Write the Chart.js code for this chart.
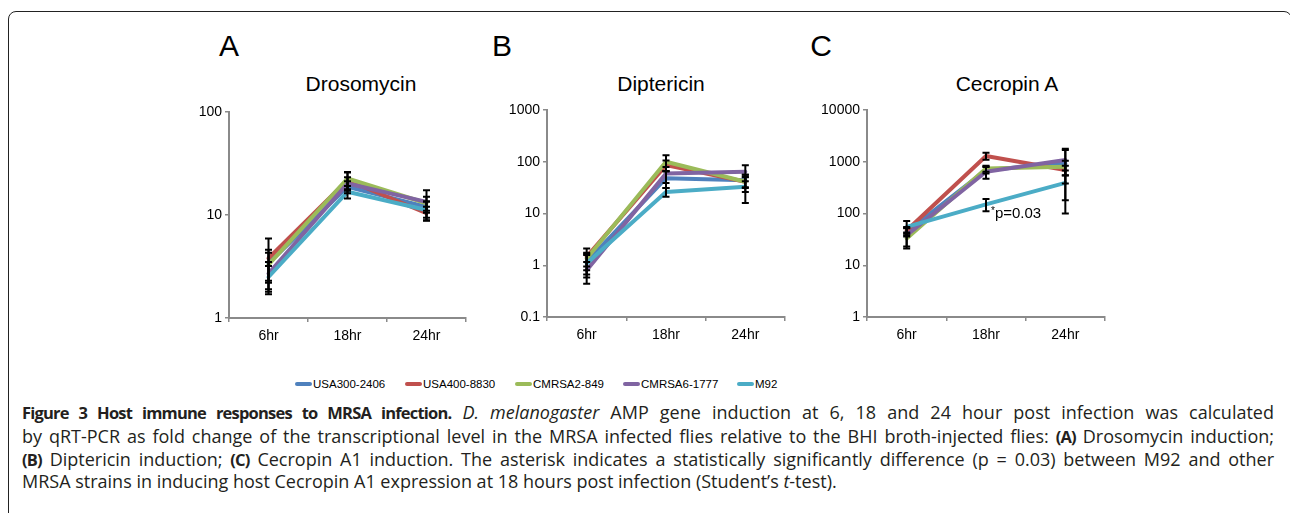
<!DOCTYPE html>
<html><head><meta charset="utf-8">
<script src="https://cdn.jsdelivr.net/npm/chart.js@4.4.0/dist/chart.umd.min.js"></script>
<style>
html,body{margin:0;padding:0;background:#fff;}
body{width:1290px;height:513px;position:relative;overflow:hidden;font-family:"Liberation Sans",Arial,sans-serif;}
.frame{position:absolute;left:8px;top:11px;width:1284px;height:600px;border:1.5px solid #222;border-radius:8px;box-sizing:border-box;}
.panel{position:absolute;}
.lbl{position:absolute;transform:translate(-50%,-50%);white-space:nowrap;color:#000;line-height:1;}
.letter{font-size:30px;}
.title{font-size:21px;}
.leg{position:absolute;top:376px;height:16px;font-size:11.5px;display:flex;align-items:center;white-space:nowrap;color:#000;}
.leg i{display:inline-block;width:17px;height:4px;border-radius:2px;margin-right:1px;}
.cap{position:absolute;left:22px;width:1252px;font-family:"Open Sans",sans-serif;font-size:18px;line-height:20px;height:20px;color:#231f20;}
.cap.j{text-align:justify;text-align-last:justify;}
.cap b{font-size:16.5px;letter-spacing:-0.8px;}
</style></head>
<body>
<div class="frame"></div>
<div class="lbl letter" style="left:229px;top:46px">A</div>
<div class="lbl letter" style="left:502px;top:46px">B</div>
<div class="lbl letter" style="left:821px;top:46px">C</div>
<div class="lbl title" style="left:361px;top:83px">Drosomycin</div>
<div class="lbl title" style="left:661px;top:83px">Diptericin</div>
<div class="lbl title" style="left:1007px;top:83px">Cecropin A</div>
<div class="panel" id="pa"><canvas id="ca"></canvas></div>
<div class="panel" id="pb"><canvas id="cb"></canvas></div>
<div class="panel" id="pc"><canvas id="cc"></canvas></div>
<div id="legend"></div>
<div class="cap j" style="top:402px"><b>Figure 3 Host immune responses to MRSA infection.</b> <i>D. melanogaster</i> AMP gene induction at 6, 18 and 24 hour post infection was calculated</div>
<div class="cap j" style="top:426px">by qRT-PCR as fold change of the transcriptional level in the MRSA infected flies relative to the BHI broth-injected flies: <b>(A)</b> Drosomycin induction;</div>
<div class="cap j" style="top:449px"><b>(B)</b> Diptericin induction; <b>(C)</b> Cecropin A1 induction. The asterisk indicates a statistically significantly difference (p = 0.03) between M92 and other</div>
<div class="cap" style="top:471px">MRSA strains in inducing host Cecropin A1 expression at 18 hours post infection (Student’s <i>t</i>-test).</div>
<script>
const categories = ['6hr', '18hr', '24hr'];
const strains = ['USA300-2406', 'USA400-8830', 'CMRSA2-849', 'CMRSA6-1777', 'M92'];

const drosomycinValues = [[3.4, 18.8, 12.0], [3.8, 21.8, 10.4], [3.3, 22.6, 13.0], [2.7, 20.2, 13.4], [2.5, 16.8, 11.2]];
const drosomycinErrors = [[1.2, 2.5, 1.5], [2.1, 4.0, 1.6], [1.0, 3.5, 2.0], [0.8, 3.0, 4.0], [0.7, 2.3, 2.3]];
const drosomycinTicks = [1, 10, 100];

const diptericinValues = [[1.16, 48, 44], [1.45, 86, 41], [1.35, 100, 41], [0.8, 59, 64], [1.08, 26, 33]];
const diptericinErrors = [[0.5, 17, 12], [0.65, 20, 15], [0.4, 34, 10], [0.36, 20, 22], [0.5, 5, 17]];
const diptericinTicks = [0.1, 1, 10, 100, 1000];

const cecropinValues = [[44, 690, 930], [47, 1290, 690], [33, 740, 800], [38, 640, 1080], [55, 150, 390]];
const cecropinErrors = [[8, 100, 750], [6, 200, 150], [10, 100, 250], [17, 170, 700], [17, 40, 290]];
const cecropinTicks = [1, 10, 100, 1000, 10000];

const annotationMark = '*';
const annotationLabel = 'p=0.03';

const strainColors = ['#4f81bd', '#c0504d', '#9bbb59', '#8064a2', '#4bacc6'];
const axisColor = '#8a8a8a';
const FONT = '"Liberation Sans", Arial, sans-serif';

// legend
const legendX = [295, 405, 515, 623, 737];
const legendEl = document.getElementById('legend');
strains.forEach((s, i) => {
  const d = document.createElement('div');
  d.className = 'leg';
  d.style.left = legendX[i] + 'px';
  d.innerHTML = '<i style="background:' + strainColors[i] + '"></i>' + s;
  legendEl.appendChild(d);
});

const errorBarPlugin = {
  id: 'errbars',
  afterDatasetsDraw(chart) {
    const ctx = chart.ctx, ys = chart.scales.y;
    ctx.save();
    ctx.strokeStyle = '#000';
    ctx.lineWidth = 2;
    chart.data.datasets.forEach((ds, i) => {
      const meta = chart.getDatasetMeta(i);
      ds.data.forEach((v, j) => {
        const e = ds.errors[j];
        const x = meta.data[j].x;
        const yt = ys.getPixelForValue(v + e);
        const yb = ys.getPixelForValue(Math.max(v - e, ys.min));
        ctx.beginPath();
        ctx.moveTo(x, yt); ctx.lineTo(x, yb);
        ctx.moveTo(x - 3.5, yt); ctx.lineTo(x + 3.5, yt);
        ctx.moveTo(x - 3.5, yb); ctx.lineTo(x + 3.5, yb);
        ctx.stroke();
      });
    });
    ctx.restore();
  }
};

const annotationPlugin = {
  id: 'pval',
  afterDatasetsDraw(chart) {
    const ctx = chart.ctx;
    const x = chart.scales.x.getPixelForValue(1);
    const y = chart.scales.y.getPixelForValue(cecropinValues[4][1]);
    ctx.save();
    ctx.fillStyle = '#000';
    ctx.textBaseline = 'alphabetic';
    ctx.textAlign = 'left';
    ctx.font = '10px ' + FONT;
    ctx.fillText(annotationMark, x + 5, y + 10);
    const w = ctx.measureText(annotationMark).width;
    ctx.font = '15px ' + FONT;
    ctx.fillText(annotationLabel, x + 5 + w, y + 14);
    ctx.restore();
  }
};

function build(panelId, canvasId, box, values, errors, tickVals, extra) {
  const wrap = document.getElementById(panelId);
  const W = box.R - box.L + 82, H = box.B - box.T + 42;
  wrap.style.left = (box.L - 70) + 'px';
  wrap.style.top = (box.T - 12) + 'px';
  const cv = document.getElementById(canvasId);
  cv.width = W; cv.height = H;
  cv.style.width = W + 'px'; cv.style.height = H + 'px';
  const gridOpts = { drawOnChartArea: false, drawTicks: true, tickLength: 4, color: axisColor, lineWidth: 1.5 };
  const borderOpts = { display: true, color: axisColor, width: 2 };
  new Chart(cv.getContext('2d'), {
    type: 'line',
    data: {
      labels: categories,
      datasets: values.map((v, i) => ({
        label: strains[i], data: v, errors: errors[i],
        borderColor: strainColors[i], backgroundColor: strainColors[i],
        borderWidth: 4, pointRadius: 0, pointHoverRadius: 0, tension: 0,
        borderJoinStyle: 'round', borderCapStyle: 'round', order: 5 - i, fill: false
      }))
    },
    options: {
      responsive: false, animation: false, devicePixelRatio: 1,
      layout: { padding: { top: 12, right: 12, left: 0, bottom: 0 } },
      plugins: { legend: { display: false }, tooltip: { enabled: false } },
      scales: {
        x: {
          type: 'category', offset: true,
          grid: Object.assign({ offset: true }, gridOpts), border: borderOpts,
          ticks: { font: { family: FONT, size: 14 }, color: '#000', padding: 6, maxRotation: 0 },
          afterFit(s) { s.height = 30; }
        },
        y: {
          type: 'logarithmic', min: tickVals[0], max: tickVals[tickVals.length - 1],
          afterBuildTicks(s) { s.ticks = tickVals.map(v => ({ value: v })); },
          grid: gridOpts, border: borderOpts,
          ticks: { font: { family: FONT, size: 14 }, color: '#000', padding: 3, callback: (v) => String(v) },
          afterFit(s) { s.width = 70; }
        }
      }
    },
    plugins: extra ? [errorBarPlugin, extra] : [errorBarPlugin]
  });
}

build('pa', 'ca', { L: 229, R: 466, T: 112, B: 318 }, drosomycinValues, drosomycinErrors, drosomycinTicks);
build('pb', 'cb', { L: 547, R: 785, T: 110, B: 317 }, diptericinValues, diptericinErrors, diptericinTicks);
build('pc', 'cc', { L: 867, R: 1105, T: 110, B: 317 }, cecropinValues, cecropinErrors, cecropinTicks, annotationPlugin);
</script>
</body></html>
